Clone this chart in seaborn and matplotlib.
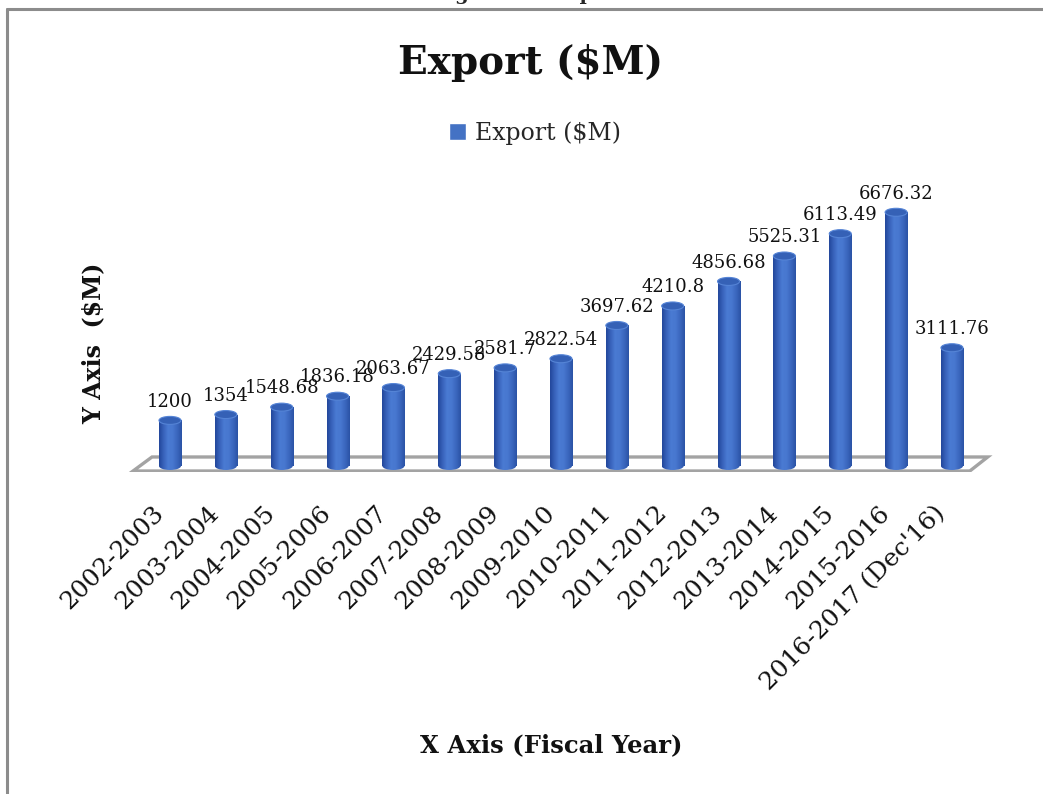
"""Export ($M) by fiscal year, drawn as Excel-style cylinder bars"""

import numpy as np
import pandas as pd
import matplotlib.pyplot as plt
import seaborn as sns
from matplotlib.patches import Ellipse, Polygon, Patch
from matplotlib.colors import LinearSegmentedColormap
from matplotlib.lines import Line2D
from matplotlib.transforms import ScaledTranslation

years = ['2002-2003', '2003-2004', '2004-2005', '2005-2006', '2006-2007',
         '2007-2008', '2008-2009', '2009-2010', '2010-2011', '2011-2012',
         '2012-2013', '2013-2014', '2014-2015', '2015-2016',
         "2016-2017 (Dec'16)"]
exports = [1200, 1354, 1548.68, 1836.18, 2063.67, 2429.58, 2581.7, 2822.54,
           3697.62, 4210.8, 4856.68, 5525.31, 6113.49, 6676.32, 3111.76]

sns.set_theme(style='white')
plt.rcParams['font.family'] = ['DejaVu Serif']

W, H = 1043, 794
fig = plt.figure(figsize=(W / 100, H / 100), dpi=100)

# plot area in pixels: left 120, right 1000, top 170, bottom 472
ax = fig.add_axes([120 / W, 1 - 472 / H, 880 / W, 302 / H])

df = pd.DataFrame({'year': years, 'export': exports})
bar_w = 0.394
sns.barplot(data=df, x='year', y='export', color='#4472c4', saturation=1,
            width=bar_w, ax=ax, zorder=2)
bars = list(ax.patches)

unit = 26.3  # data units per pixel on y

# floor of the 3D plot
floor = Polygon([(-0.662, -132), (14.32, -132), (14.64, 237), (-0.322, 237)],
                closed=True, facecolor='white', edgecolor='#a3a3a3',
                linewidth=2.4, zorder=0.5)
ax.add_patch(floor)

# cylinder shading
cmap = LinearSegmentedColormap.from_list(
    'cyl', ['#22469a', '#3862bb', '#4a7bd3', '#4877cf', '#3a66bd', '#2a52a5'])
grad = np.linspace(0, 1, 256).reshape(1, -1)
ell_h = 8 * unit

for bar, val in zip(bars, exports):
    x0 = bar.get_x()
    w = bar.get_width()
    cx = x0 + w / 2
    bar.set_edgecolor('none')
    im = ax.imshow(grad, extent=(x0, x0 + w, 0, val), aspect='auto',
                   cmap=cmap, zorder=2.1, interpolation='bilinear')
    im.set_clip_path(bar)
    bottom = Ellipse((cx, 0), w, ell_h, facecolor='none', edgecolor='none')
    ax.add_patch(bottom)
    im2 = ax.imshow(grad, extent=(x0, x0 + w, -ell_h / 2, 0), aspect='auto',
                    cmap=cmap, zorder=2.05, interpolation='bilinear')
    im2.set_clip_path(bottom)
    cap = Ellipse((cx, val), w, ell_h, facecolor='#3561b6',
                  edgecolor='#5584d6', linewidth=0.8, zorder=3)
    ax.add_patch(cap)
    ax.annotate(f'{val:g}', (cx, val), xytext=(0, 7), textcoords='offset points',
                ha='center', va='bottom', fontsize=13, color='#111111',
                zorder=4)

ax.set_xlim(-0.895, 14.86)
ax.set_ylim(-158, 7789)

ax.set_xlabel('')
ax.set_ylabel('')
ax.set_yticks([])
ax.set_xticks(range(len(years)))
ax.set_xticklabels(years, rotation=45, ha='right', va='top',
                   rotation_mode='anchor', fontsize=18, color='#111111')
ax.tick_params(axis='x', length=0, pad=21)
shift = ScaledTranslation(-13 / 72, 0, fig.dpi_scale_trans)
for lbl in ax.get_xticklabels():
    lbl.set_transform(lbl.get_transform() + shift)
for s in ax.spines.values():
    s.set_visible(False)
ax.patch.set_alpha(0)

# titles and axis labels
fig.text(530 / W, 1 + 5 / H, 'Figure 02: Export', ha='center', va='center',
         fontsize=14, fontweight='bold')
fig.text(531 / W, 1 - 63 / H, 'Export ($M)', ha='center', va='center',
         fontsize=28, fontweight='bold', color='#111111')
fig.text(93 / W, 1 - 343 / H, 'Y Axis  ($M)', ha='center', va='center',
         rotation=90, fontsize=17, fontweight='bold', color='#111111')
fig.text(551 / W, 1 - 745 / H, 'X Axis (Fiscal Year)', ha='center',
         va='center', fontsize=17.5, fontweight='bold', color='#111111')

fig.legend(handles=[Patch(facecolor='#4472c4', label='Export ($M)')],
           loc='center', bbox_to_anchor=(535 / W, 1 - 133 / H), frameon=False,
           fontsize=17, handlelength=0.7, handleheight=0.7, handletextpad=0.4)

# chart border
fig.add_artist(Line2D([7 / W, 1], [1 - 9 / H, 1 - 9 / H], color='#8c8c8c',
                      linewidth=2.2, transform=fig.transFigure))
fig.add_artist(Line2D([7 / W, 7 / W], [1 - 9 / H, 0], color='#8c8c8c',
                      linewidth=2.2, transform=fig.transFigure))

fig.savefig('out.png', dpi=100)
